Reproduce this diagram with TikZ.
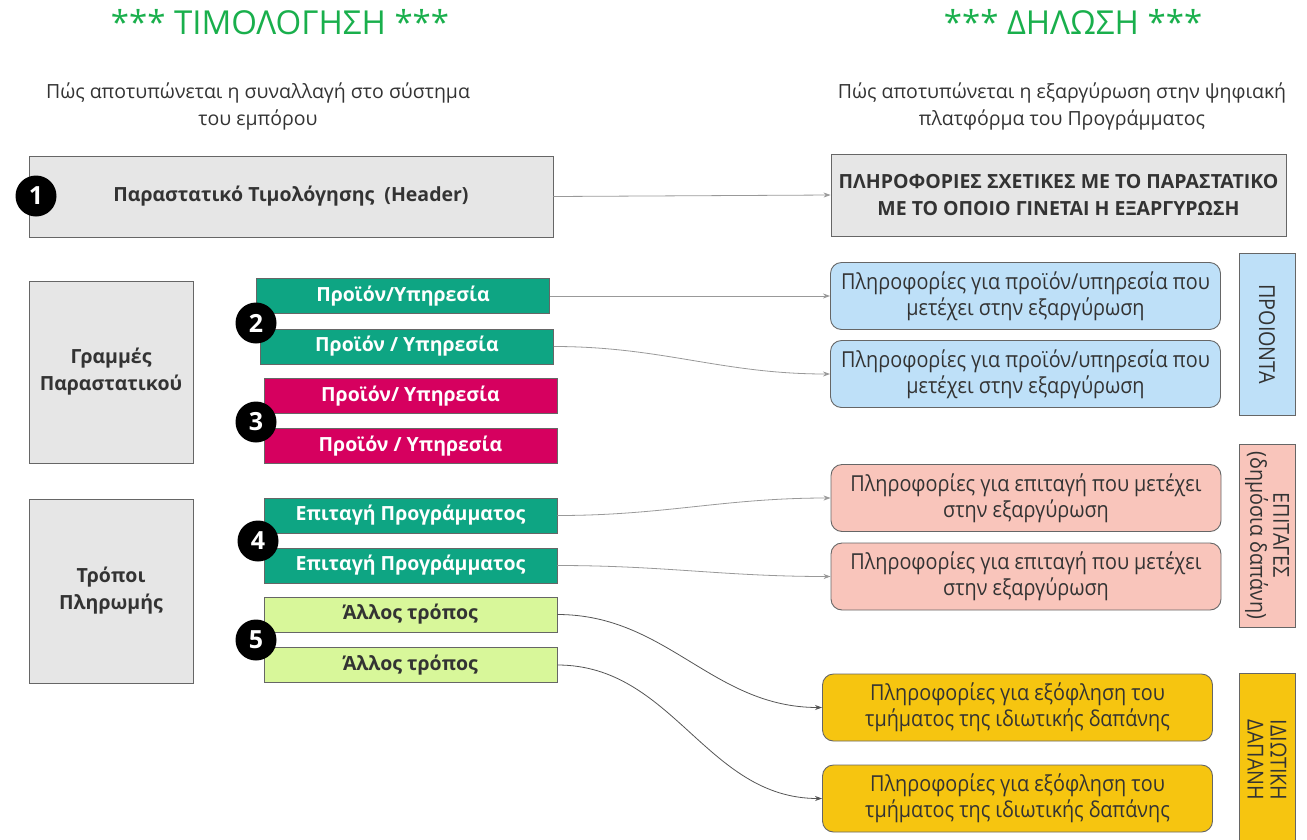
\documentclass[tikz,border=0pt]{standalone}
\usepackage{fontspec}
\setmainfont{Open Sans}
\newfontfamily\condfont[FakeStretch=0.9]{Open Sans}
\usepackage{tikz}
\usetikzlibrary{arrows.meta,positioning}
\definecolor{titlegreen}{HTML}{19AF4C}
\definecolor{txtdark}{HTML}{333333}
\definecolor{boxgray}{HTML}{E6E6E6}
\definecolor{edgegray}{HTML}{666666}
\definecolor{rowteal}{HTML}{0EA583}
\definecolor{rowmagenta}{HTML}{D6005F}
\definecolor{rowlime}{HTML}{D8F79A}
\definecolor{infoblue}{HTML}{BEE0F8}
\definecolor{infopink}{HTML}{F9C5BB}
\definecolor{infoyellow}{HTML}{F6C510}
\definecolor{arrlight}{HTML}{999999}
\definecolor{arrdark}{HTML}{555555}

\begin{document}
\begin{tikzpicture}[
    x=1pt,y=-1pt,
    title/.style={text=titlegreen,font=\fontsize{33}{38}\selectfont},
    subtitle/.style={text=txtdark,align=center,font=\fontsize{19.5}{27}\selectfont},
    box/.style={draw=edgegray,line width=0.9pt,inner sep=0pt,align=center},
    graybox/.style={box,fill=boxgray,text=txtdark,font=\bfseries\fontsize{19.5}{27}\selectfont},
    rowbox/.style={box,minimum width=293pt,minimum height=35pt,font=\bfseries\fontsize{19.5}{22}\selectfont},
    info/.style={box,rounded corners=11pt,minimum width=390pt,minimum height=67pt,text=txtdark,font=\condfont\fontsize{22}{26}\selectfont},
    side/.style={box,minimum width=56pt},
    sidetext/.style={rotate=-90,align=center,text=txtdark,font=\condfont\fontsize{22}{23}\selectfont},
    badge/.style={circle,fill=black,text=white,minimum size=41pt,inner sep=0pt,font=\bfseries\fontsize{25}{25}\selectfont},
    arr/.style={->,>={Stealth[length=7pt,width=5pt]},line width=0.8pt,draw=arrlight},
    darr/.style={arr,draw=arrdark}
]
\useasboundingbox (0,0) rectangle (1307,839);

% headings
\node[title] (tinv) at (280,22) {*** ΤΙΜΟΛΟΓΗΣΗ ***};
\node[title] (tdecl) at (1073,22) {*** ΔΗΛΩΣΗ ***};
\node[subtitle] (sinv) at (258,106) {Πώς αποτυπώνεται η συναλλαγή στο σύστημα\\του εμπόρου};
\node[subtitle] (sdecl) at (1062,106) {Πώς αποτυπώνεται η εξαργύρωση στην ψηφιακή\\πλατφόρμα του Προγράμματος};

% left side: invoice
\node[graybox,minimum width=524pt,minimum height=81pt] (hdr) at (291,196.5) {Παραστατικό Τιμολόγησης~ (Header)};
\node[graybox,minimum width=164pt,minimum height=182pt] (lines) at (111,372) {Γραμμές\\Παραστατικού};
\node[graybox,minimum width=164pt,minimum height=184pt] (pay) at (111,591) {Τρόποι\\Πληρωμής};

\node[rowbox,fill=rowteal,text=white] (prod1) at (403,296) {Προϊόν/Υπηρεσία};
\node[rowbox,fill=rowteal,text=white] (prod2) at (407,346.5) {Προϊόν / Υπηρεσία};
\node[rowbox,fill=rowmagenta,text=white] (prod3) at (410.5,396) {Προϊόν/ Υπηρεσία};
\node[rowbox,fill=rowmagenta,text=white] (prod4) at (410.5,446) {Προϊόν / Υπηρεσία};
\node[rowbox,fill=rowteal,text=white] (chq1) at (410.5,515.5) {Επιταγή Προγράμματος};
\node[rowbox,fill=rowteal,text=white] (chq2) at (410.5,565.5) {Επιταγή Προγράμματος};
\node[rowbox,fill=rowlime,text=txtdark] (oth1) at (410.5,614.5) {Άλλος τρόπος};
\node[rowbox,fill=rowlime,text=txtdark] (oth2) at (410.5,665) {Άλλος τρόπος};

% numbered markers
\node[badge] (n1) at (36,196) {1};
\node[badge] (n2) at (256,323) {2};
\node[badge] (n3) at (256,422) {3};
\node[badge] (n4) at (258,541) {4};
\node[badge] (n5) at (256,640) {5};

% right side: declaration
\node[graybox,minimum width=455pt,minimum height=82pt] (hdrinfo) at (1058.5,195)
    {ΠΛΗΡΟΦΟΡΙΕΣ ΣΧΕΤΙΚΕΣ ΜΕ ΤΟ ΠΑΡΑΣΤΑΤΙΚΟ\\ΜΕ ΤΟ ΟΠΟΙΟ ΓΙΝΕΤΑΙ Η ΕΞΑΡΓΥΡΩΣΗ};
\node[info,fill=infoblue] (pinfo1) at (1025.5,296) {Πληροφορίες για προϊόν/υπηρεσία που\\μετέχει στην εξαργύρωση};
\node[info,fill=infoblue] (pinfo2) at (1025.5,374) {Πληροφορίες για προϊόν/υπηρεσία που\\μετέχει στην εξαργύρωση};
\node[info,fill=infopink] (cinfo1) at (1026,498) {Πληροφορίες για επιταγή που μετέχει\\στην εξαργύρωση};
\node[info,fill=infopink] (cinfo2) at (1026,576.5) {Πληροφορίες για επιταγή που μετέχει\\στην εξαργύρωση};
\node[info,fill=infoyellow] (oinfo1) at (1017.5,707.5) {Πληροφορίες για εξόφληση του\\τμήματος της ιδιωτικής δαπάνης};
\node[info,fill=infoyellow] (oinfo2) at (1017.5,798.5) {Πληροφορίες για εξόφληση του\\τμήματος της ιδιωτικής δαπάνης};

% category strips
\node[side,fill=infoblue,minimum height=162pt] (sprod) at (1267,334) {};
\node[sidetext] at (sprod.center) {ΠΡΟΙΟΝΤΑ};
\node[side,fill=infopink,minimum height=183pt] (schq) at (1267,535.5) {};
\node[sidetext] at (schq.center) {ΕΠΙΤΑΓΕΣ\\(δημόσια δαπάνη)};
\node[side,fill=infoyellow,minimum height=174pt] (spriv) at (1267,760) {};
\node[sidetext] at (spriv.center) {ΙΔΙΩΤΙΚΗ\\ΔΑΠΑΝΗ};

% connectors
\draw[arr] (hdr.east) -- (hdrinfo.west);
\draw[arr] (prod1.east) -- (prod1.east -| pinfo1.west);
\draw[arr] (prod2.east) to[out=0,in=180] (pinfo2.west);
\draw[arr] (chq1.east) to[out=0,in=180] (cinfo1.west);
\draw[arr] (chq2.east) to[out=0,in=180] (cinfo2.west);
\draw[darr] (oth1.east) to[out=0,in=180] (oinfo1.west);
\draw[darr] (oth2.east) to[out=0,in=180] (oinfo2.west);
\end{tikzpicture}
\end{document}
